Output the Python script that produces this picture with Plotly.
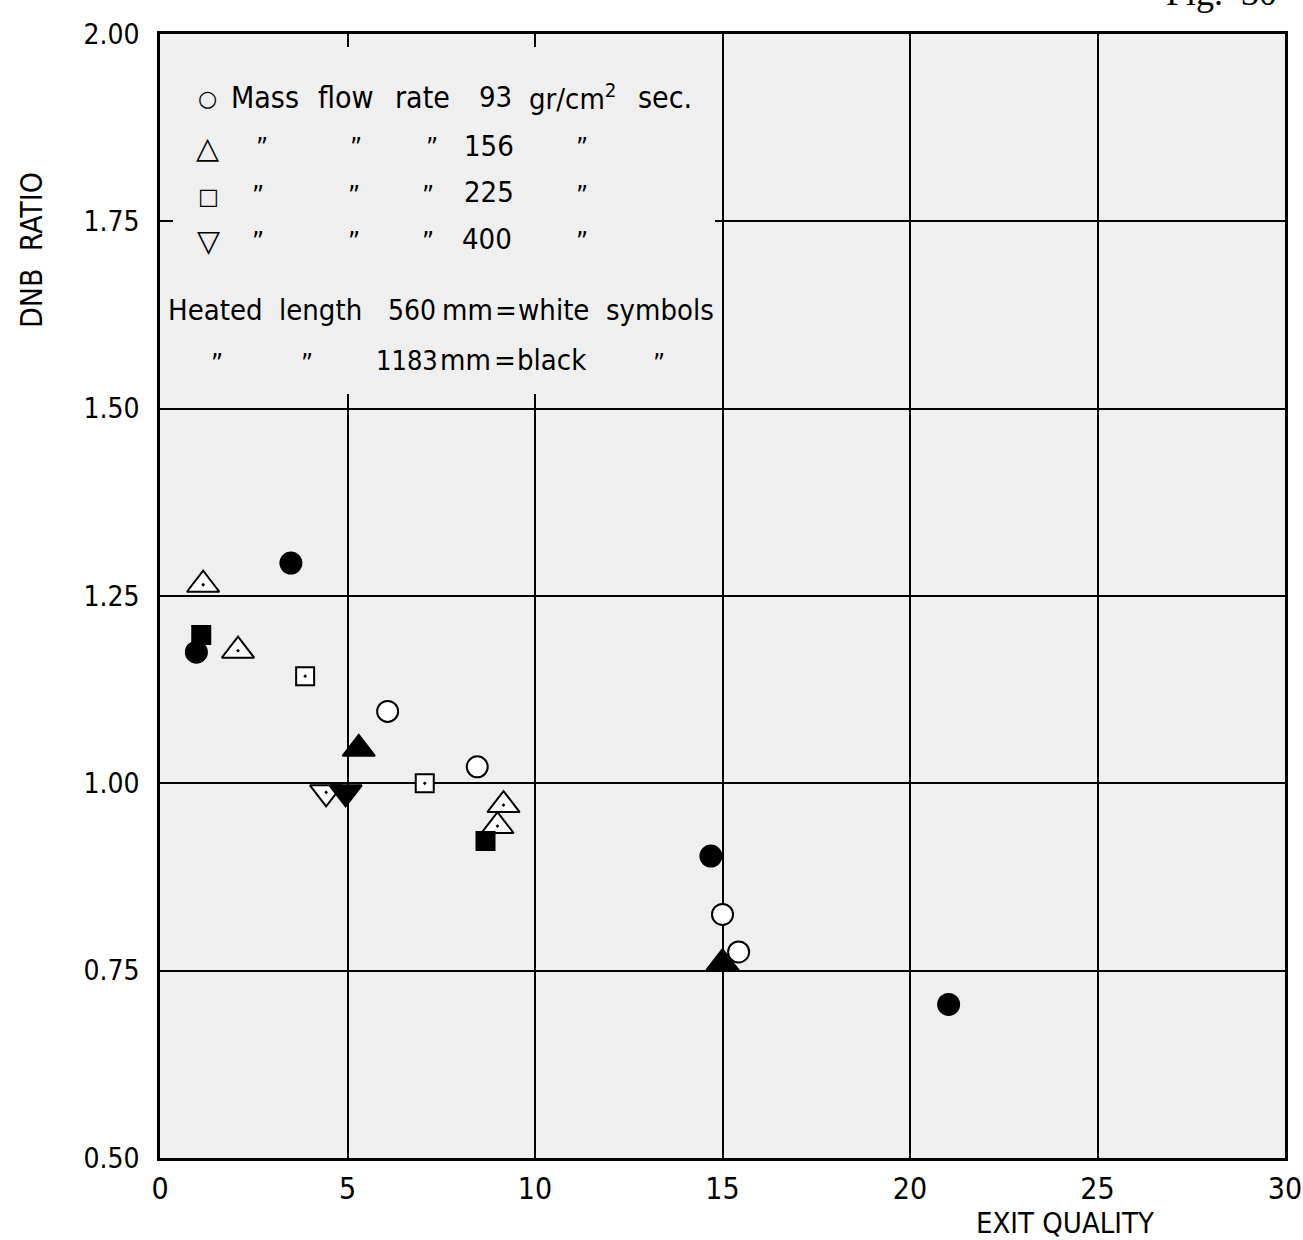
import plotly.graph_objects as go

# --- data: exit quality (%) vs DNB ratio -------------------------------
# mass flow 93 gr/cm2 sec
g93_short_x = [6.07, 8.46, 15.0, 15.43]
g93_short_y = [1.096, 1.022, 0.825, 0.775]
g93_long_x = [3.49, 0.97, 14.69, 21.03]
g93_long_y = [1.294, 1.175, 0.903, 0.705]
# mass flow 156
g156_short_x = [1.15, 2.08, 9.16, 9.0]
g156_short_y = [1.265, 1.177, 0.971, 0.943]
g156_long_x = [5.3, 15.0]
g156_long_y = [1.046, 0.760]
# mass flow 225
g225_short_x = [3.87, 7.06]
g225_short_y = [1.143, 1.000]
g225_long_x = [1.1, 8.68]
g225_long_y = [1.198, 0.923]
# mass flow 400
g400_short_x = [4.43]
g400_short_y = [0.988]
g400_long_x = [4.95]
g400_long_y = [0.988]

x_ticks = [0, 5, 10, 15, 20, 25, 30]
x_ticktext = ["0", "5", "10", "15", "20", "25", "30"]
y_ticks = [0.50, 0.75, 1.00, 1.25, 1.50, 1.75, 2.00]
y_ticktext = ["0.50", "0.75", "1.00", "1.25", "1.50", "1.75", "2.00"]

W, H = 1303, 1240
L, R, T, B = 160, 18, 34, 82
PW, PH = W - L - R, H - T - B
BG = "#efefef"
FONT = "DejaVu Sans Condensed, Liberation Sans Narrow, DejaVu Sans, sans-serif"


def px(x):
    return (x - L) / PW


def py(y):
    return (H - B - y) / PH


fig = go.Figure()


def add_series(xs, ys, symbol, filled, size):
    fig.add_trace(go.Scatter(
        x=xs, y=ys, mode="markers", showlegend=False, hoverinfo="skip",
        marker=dict(symbol=symbol, size=size,
                    color="black" if filled else "white",
                    line=dict(color="black", width=2)),
    ))


add_series(g93_short_x, g93_short_y, "circle", False, 21)
add_series(g93_long_x, g93_long_y, "circle", True, 21)
add_series(g156_short_x, g156_short_y, "triangle-up-dot", False, 28)
add_series(g156_long_x, g156_long_y, "triangle-up", True, 28)
add_series(g225_short_x, g225_short_y, "square-dot", False, 18)
add_series(g225_long_x, g225_long_y, "square", True, 18)
add_series(g400_short_x, g400_short_y, "triangle-down-dot", False, 28)
add_series(g400_long_x, g400_long_y, "triangle-down", True, 28)

# key panel blanks the grid in the upper-left corner; a thin band along the
# frame is left open so the grid lines show as short stubs there
fig.add_shape(type="rect", xref="paper", yref="paper",
              x0=px(173), x1=px(715), y0=py(394), y1=py(47),
              fillcolor=BG, line_width=0, layer="above")

DITTO = "\u201d"
key_items = [
    # (text, left x, centre y, size)
    ("Mass", 229, 97, 30), ("flow", 316, 97, 30), ("rate", 393, 97, 30),
    ("93", 477, 97, 29), ("gr/cm<sup>2</sup>", 527, 97, 29), ("sec.", 636, 97, 30),
    (DITTO, 254, 148, 26), (DITTO, 348, 148, 26), (DITTO, 424, 148, 26),
    ("156", 462, 146, 29), (DITTO, 574, 148, 26),
    (DITTO, 250, 196, 26), (DITTO, 346, 196, 26), (DITTO, 420, 196, 26),
    ("225", 462, 192, 29), (DITTO, 574, 196, 26),
    (DITTO, 250, 242, 26), (DITTO, 346, 242, 26), (DITTO, 420, 242, 26),
    ("400", 460, 239, 29), (DITTO, 574, 242, 26),
    ("Heated", 166, 310, 29), ("length", 277, 310, 29), ("560", 386, 310, 28),
    ("mm", 440, 310, 29), ("=", 493, 310, 29), ("white", 516, 310, 29),
    ("symbols", 604, 310, 29),
    (DITTO, 209, 364, 26), (DITTO, 299, 364, 26),
    ("1183", 374, 360, 27), ("mm", 438, 360, 29), ("=", 492, 360, 29),
    ("black", 515, 360, 29), (DITTO, 651, 364, 26),
]
for text, x, y, s in key_items:
    fig.add_annotation(text=text, xref="paper", yref="paper", x=px(x), y=py(y),
                       xanchor="left", yanchor="middle", showarrow=False,
                       font=dict(family=FONT, size=s, color="black"))

key_symbols = [("\u25cb", 207, 99, 22), ("\u25b3", 207, 147, 30),
               ("\u25a1", 208, 197, 22), ("\u25bd", 208, 240, 30)]
for text, x, y, s in key_symbols:
    fig.add_annotation(text=text, xref="paper", yref="paper", x=px(x), y=py(y),
                       xanchor="center", yanchor="middle", showarrow=False,
                       font=dict(family="DejaVu Sans", size=s, color="black"))

# axis titles
fig.add_annotation(text="DNB  RATIO", xref="paper", yref="paper", x=px(31), y=py(250),
                   textangle=-90, xanchor="center", yanchor="middle", showarrow=False,
                   font=dict(family=FONT, size=30, color="black"))
fig.add_annotation(text="EXIT QUALITY", xref="paper", yref="paper", x=px(1065), y=py(1223),
                   xanchor="center", yanchor="middle", showarrow=False,
                   font=dict(family=FONT, size=29, color="black"))
# figure number, trimmed by the top edge of the sheet
fig.add_annotation(text="Fig.  30", xref="paper", yref="paper", x=px(1164), y=py(15),
                   xanchor="left", yanchor="bottom", showarrow=False,
                   font=dict(family="Liberation Serif", size=36, color="black"))

axis_common = dict(
    showgrid=True, gridcolor="black", gridwidth=1.5,
    showline=True, linecolor="black", linewidth=2.5, mirror=True,
    ticks="", zeroline=False, fixedrange=True, automargin=False,
)
fig.update_xaxes(range=[0, 30], tickvals=x_ticks, ticktext=x_ticktext,
                 tickfont=dict(family=FONT, size=30, color="black"),
                 ticklabelstandoff=2, **axis_common)
fig.update_yaxes(range=[0.5, 2.0], tickvals=y_ticks, ticktext=y_ticktext,
                 tickfont=dict(family=FONT, size=28, color="black"),
                 ticklabelstandoff=12, **axis_common)

fig.update_layout(
    width=W, height=H,
    margin=dict(l=L, r=R, t=T, b=B, autoexpand=False),
    plot_bgcolor=BG, paper_bgcolor="white",
    showlegend=False,
)

fig.write_html("out.html")
